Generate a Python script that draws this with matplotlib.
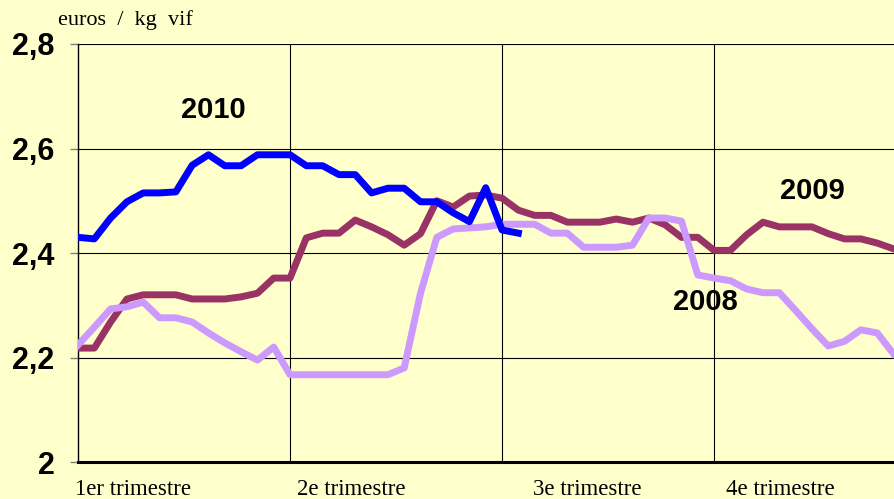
import numpy as np
import matplotlib
matplotlib.use('Agg')
import matplotlib.pyplot as plt
import matplotlib.transforms as mtransforms

# weekly prices, euros / kg vif
prix_2010 = [2.430, 2.427, 2.467, 2.498, 2.515, 2.515, 2.517, 2.568, 2.588, 2.567,
             2.567, 2.588, 2.588, 2.588, 2.567, 2.567, 2.550, 2.550, 2.515, 2.524,
             2.524, 2.498, 2.498, 2.477, 2.460, 2.525, 2.444, 2.438]
prix_2009 = [2.218, 2.218, 2.268, 2.312, 2.320, 2.320, 2.320, 2.312, 2.312, 2.312,
             2.316, 2.323, 2.352, 2.352, 2.429, 2.438, 2.438, 2.463, 2.450, 2.435,
             2.415, 2.437, 2.500, 2.488, 2.509, 2.511, 2.505, 2.482, 2.472, 2.472,
             2.459, 2.459, 2.459, 2.465, 2.459, 2.467, 2.454, 2.430, 2.430, 2.405,
             2.405, 2.435, 2.459, 2.450, 2.450, 2.450, 2.437, 2.427, 2.427, 2.419,
             2.408]
prix_2008 = [2.224, 2.258, 2.293, 2.297, 2.306, 2.276, 2.276, 2.268, 2.247, 2.228,
             2.211, 2.195, 2.220, 2.167, 2.167, 2.167, 2.167, 2.167, 2.167, 2.167,
             2.180, 2.323, 2.430, 2.446, 2.448, 2.450, 2.455, 2.455, 2.455, 2.438,
             2.438, 2.411, 2.411, 2.411, 2.415, 2.467, 2.467, 2.461, 2.358, 2.352,
             2.347, 2.331, 2.324, 2.324, 2.290, 2.255, 2.222, 2.231, 2.253, 2.247,
             2.207]

trimestres = ['1er trimestre', '2e trimestre', '3e trimestre', '4e trimestre']
yticks = [2.0, 2.2, 2.4, 2.6, 2.8]
ytick_labels = ['2', '2,2', '2,4', '2,6', '2,8']

bg = '#FFFFCC'
fig = plt.figure(figsize=(8.95, 4.99), dpi=100, facecolor=bg)
ax = fig.add_axes([78 / 895, 37 / 499, 817 / 895, 418 / 499])
ax.set_facecolor(bg)

lw = 5.0
ax.plot(np.arange(len(prix_2009)), prix_2009, color='#993366', lw=lw, zorder=3)
ax.plot(np.arange(len(prix_2008)), prix_2008, color='#CC99FF', lw=lw, zorder=4)
ax.plot(np.arange(len(prix_2010)), prix_2010, color='#0000FF', lw=lw, zorder=5)

ax.set_xlim(0, 817 / 16.31)
ax.set_ylim(2.0, 2.8)

# grid
ax.set_yticks(yticks)
ax.set_yticklabels(ytick_labels, fontsize=22, fontweight='bold',
                   family='Liberation Sans')
ax.tick_params(axis='y', length=6, width=1, color='#808080', pad=11)
for v in yticks[1:]:
    ax.axhline(v, color='black', lw=0.8, zorder=2)
ax.set_xticks([])
for k in range(1, 4):
    ax.axvline(13 * k, color='black', lw=0.8, zorder=2)

for s in ['top', 'right']:
    ax.spines[s].set_visible(False)
ax.spines['left'].set_linewidth(1.0)
ax.spines['bottom'].set_linewidth(2.2)

# quarter labels
trans = mtransforms.blended_transform_factory(ax.transData, ax.transAxes)
label_x = [-0.2, 13.4, 27.9, 39.7]
for xpos, lab in zip(label_x, trimestres):
    ax.text(xpos, -0.079, lab, transform=trans, ha='left', va='baseline',
            fontsize=16.5, family='Liberation Serif', clip_on=False)

fig.text(58 / 895, 1 - 25 / 499, 'euros  /  kg  vif', fontsize=16,
         family='Liberation Serif', ha='left', va='baseline')

ax.text(8.28, 2.674, '2010', fontsize=21, fontweight='bold',
        family='Liberation Sans', ha='center', va='center', zorder=6)
ax.text(45.0, 2.519, '2009', fontsize=21, fontweight='bold',
        family='Liberation Sans', ha='center', va='center', zorder=6)
ax.text(38.47, 2.306, '2008', fontsize=21, fontweight='bold',
        family='Liberation Sans', ha='center', va='center', zorder=6)

fig.savefig('out.png', dpi=100, facecolor=bg)
